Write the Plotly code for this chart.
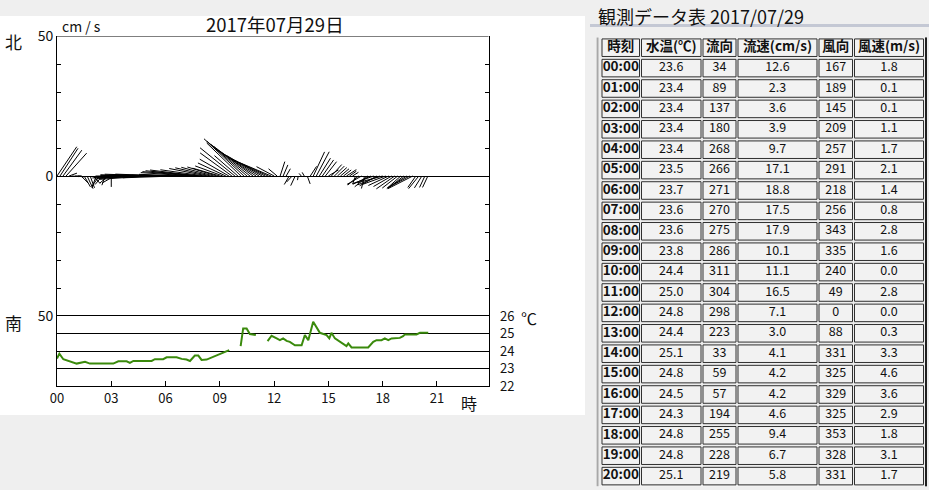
import numpy as np
import plotly.graph_objects as go

# ---- observation table (hourly) ----
times = ['00:00', '01:00', '02:00', '03:00', '04:00', '05:00', '06:00', '07:00', '08:00', '09:00', '10:00',
         '11:00', '12:00', '13:00', '14:00', '15:00', '16:00', '17:00', '18:00', '19:00', '20:00']
water_temp = [23.6, 23.4, 23.4, 23.4, 23.4, 23.5, 23.7, 23.6, 23.6, 23.8, 24.4,
              25.0, 24.8, 24.4, 25.1, 24.8, 24.5, 24.3, 24.8, 24.8, 25.1]
flow_dir = [34, 89, 137, 180, 268, 266, 271, 270, 275, 286, 311,
            304, 298, 223, 33, 59, 57, 194, 255, 228, 219]
flow_speed = [12.6, 2.3, 3.6, 3.9, 9.7, 17.1, 18.8, 17.5, 17.9, 10.1, 11.1,
              16.5, 7.1, 3.0, 4.1, 4.2, 4.2, 4.6, 9.4, 6.7, 5.8]
wind_dir = [167, 189, 145, 209, 257, 291, 218, 256, 343, 335, 240,
            49, 0, 88, 331, 325, 329, 325, 353, 328, 331]
wind_speed = [1.8, 0.1, 0.1, 1.1, 1.7, 2.1, 1.4, 0.8, 2.8, 1.6, 0.0,
              2.8, 0.0, 0.3, 3.3, 4.6, 3.6, 2.9, 1.8, 3.1, 1.7]
headers = ['時刻', '水温(℃)', '流向', '流速(cm/s)', '風向', '風速(m/s)']

# ---- 10-minute current sticks ----
stick_dir = [
    34, 33, 36, 42, 70, 95,
    89, 100, 135, 150, 155, 160,
    137, 200, 215, 220, 200, 230,
    180, 240, 262, 266, 268, 270,
    268, 270, 272, 271, 268, 267,
    266, 268, 270, 272, 271, 270,
    271, 272, 270, 268, 270, 271,
    270, 272, 274, 275, 276, 277,
    275, 278, 281, 283, 285, 287,
    286, 290, 295, 300, 306, 309,
    311, 314, 313, 311, 309, 307,
    304, 302, 300, 297, 295, 293,
    298, 310, 18, 23, 30, 210,
    223, 205, 190, 320, 330, 160,
    33, 25, 28, 32, 35, 38,
    59, 42, 45, 48, 50, 52,
    57, 55, 58, 200, 230, 240,
    194, 230, 245, 250, 240, 248,
    255, 250, 245, 240, 235, 232,
    228, 232, 238, 242, 243, 215,
    219, 212, 205, 205,
]
stick_speed = [
    12.6, 11.8, 11.4, 11.0, 3.0, 2.5,
    2.3, 2.0, 3.5, 4.5, 5.0, 4.5,
    3.6, 4.5, 4.5, 4.0, 3.5, 4.0,
    3.9, 5.0, 8.0, 10.0, 10.5, 11.0,
    9.7, 11.5, 12.5, 13.5, 14.5, 15.5,
    17.1, 17.5, 18.0, 18.5, 18.0, 18.5,
    18.8, 19.0, 18.0, 18.5, 18.0, 17.5,
    17.5, 17.0, 17.5, 18.0, 18.0, 17.5,
    17.9, 16.0, 14.0, 13.0, 12.0, 11.0,
    10.1, 10.5, 11.0, 12.0, 14.0, 16.0,
    11.1, 17.0, 19.5, 19.0, 18.0, 17.5,
    16.5, 15.5, 14.5, 13.5, 13.0, 12.5,
    7.1, 4.0, 5.4, 4.3, 3.0, 3.5,
    3.0, 3.8, 1.5, 1.2, 1.5, 3.0,
    4.1, 9.5, 9.8, 7.5, 7.0, 6.5,
    4.2, 5.5, 5.0, 4.5, 4.0, 3.5,
    4.2, 3.0, 2.5, 3.0, 5.0, 6.0,
    4.6, 6.0, 7.0, 8.0, 7.0, 8.5,
    9.4, 9.0, 8.0, 7.5, 8.0, 7.0,
    6.7, 7.0, 8.0, 9.0, 10.0, 5.0,
    5.8, 5.0, 4.5, 4.5,
]
stick_time = np.arange(len(stick_dir)) / 6.0

# ---- water temperature trace (None = gap) ----
temp_hour = [0.0, 0.13, 0.35, 1.09, 1.55, 1.82, 3.11, 3.39, 3.85, 4.03, 4.22, 5.23, 5.41, 5.87, 6.06,
             6.61, 6.89, 7.16, 7.35, 7.62, 7.81, 7.99, 8.27, 8.64, 9.01, 9.19, 9.52, None,
             10.15, 10.29, 10.48, 10.66, 10.99, None,
             11.64, 11.86, 12.14, 12.32, 12.5, 12.69, 12.87, 13.15, 13.52, 13.7, 13.89, 14.16,
             14.53, 14.9, 15.05, 15.17, 15.36, 15.64, 15.82, 16.0, 16.1, 16.28, 17.2, 17.48,
             17.66, 17.94, 18.12, 18.31, 18.49, 18.77, 18.95, 19.13, 19.23, 19.87, 20.06, 20.52]
temp_value = [23.57, 23.85, 23.53, 23.28, 23.38, 23.28, 23.28, 23.41, 23.41, 23.32, 23.43, 23.43, 23.53,
              23.53, 23.64, 23.64, 23.55, 23.51, 23.43, 23.74, 23.74, 23.49, 23.51, 23.66, 23.8, 23.89,
              24.05, None,
              24.28, 25.29, 25.29, 24.97, 24.91, None,
              24.56, 24.87, 24.72, 24.62, 24.72, 24.58, 24.52, 24.33, 24.33, 24.91, 24.62, 25.67,
              25.04, 24.91, 24.72, 25.04, 24.72, 24.52, 24.43, 24.28, 24.43, 24.2, 24.2, 24.52,
              24.62, 24.62, 24.72, 24.62, 24.72, 24.75, 24.75, 24.85, 24.95, 24.95, 25.04, 25.04]

W, H = 929, 490
FONT = 'Noto Sans CJK JP'
BG = '#efefef'


def px(x):
    return x / W


def py(y):
    return 1 - y / H


X_RANGE = [0, 23.85]
K = (2.8 / 18.08)  # stick length: cm/s -> hours so both axes share one scale

sx, sy = [], []
for t, d, s in zip(stick_time, stick_dir, stick_speed):
    r = np.radians(d)
    sx += [t, t + s * np.sin(r) * K, None]
    sy += [0, s * np.cos(r), None]

fig = go.Figure()

fig.add_trace(go.Scatter(x=sx, y=sy, mode='lines', line=dict(color='black', width=1),
                         xaxis='x', yaxis='y', hoverinfo='skip'))
fig.add_trace(go.Scatter(x=temp_hour, y=temp_value, mode='lines', connectgaps=False,
                         line=dict(color='#3a8a0c', width=2), xaxis='x', yaxis='y2'))

# ---- table ----
col_edges = [601, 640.5, 702, 737, 818, 853.5, 924.5]
cell_shapes = []
n_rows = len(times) + 1
for r in range(n_rows):
    for c in range(len(headers)):
        cell_shapes.append(dict(type='rect', xref='x3', yref='y3',
                                x0=col_edges[c] + 1, x1=col_edges[c + 1] - 1, y0=r + 0.07, y1=r + 0.93,
                                line=dict(color='#303030', width=1), fillcolor='#f2f2f2', layer='below'))

columns = [times, [f'{v:.1f}' for v in water_temp], [str(v) for v in flow_dir],
           [f'{v:.1f}' for v in flow_speed], [str(v) for v in wind_dir], [f'{v:.1f}' for v in wind_speed]]
for c, col in enumerate(columns):
    cx = (col_edges[c] + col_edges[c + 1]) / 2
    fig.add_trace(go.Scatter(x=[cx] * len(col), y=[r + 1.5 for r in range(len(col))],
                             text=[f'<b>{v}</b>' for v in col] if c == 0 else col,
                             mode='text', textposition='middle center',
                             textfont=dict(family=FONT, size=13.5 if c == 0 else 12.5, color='#111'),
                             xaxis='x3', yaxis='y3', hoverinfo='skip'))
fig.add_trace(go.Scatter(x=[(col_edges[c] + col_edges[c + 1]) / 2 for c in range(len(headers))],
                         y=[0.5] * len(headers), text=[f'<b>{h}</b>' for h in headers],
                         mode='text', textposition='middle center',
                         textfont=dict(family=FONT, size=13.5, color='#111'),
                         xaxis='x3', yaxis='y3', hoverinfo='skip'))

# background panels and frames
shapes = [
    dict(type='rect', xref='paper', yref='paper', x0=0, x1=px(585), y0=py(415), y1=py(16),
         fillcolor='white', line=dict(width=0), layer='below'),
    dict(type='line', xref='paper', yref='paper', x0=px(590), x1=1, y0=py(25.5), y1=py(25.5),
         line=dict(color='#c4c8d4', width=3)),
    dict(type='rect', xref='x3', yref='y3', x0=597.5, x1=926, y0=-0.2, y1=22.1,
         line=dict(color='#a8a8a8', width=2), fillcolor='#ececec', layer='below'),
    dict(type='line', xref='x3', yref='y3', x0=926, x1=926, y0=-0.2, y1=22.1,
         line=dict(color='#202020', width=2)),
    dict(type='line', xref='x3', yref='y3', x0=597.5, x1=926, y0=22.1, y1=22.1,
         line=dict(color='#202020', width=2)),
] + cell_shapes + [
    dict(type='line', xref='x domain', yref='y', x0=0, x1=1, y0=50, y1=50, line=dict(color='black', width=1)),
]

annotations = [
    dict(text='2017年07月29日', x=px(275), y=py(24), font=dict(size=18.5)),
    dict(text='cm / s', x=px(81), y=py(26), font=dict(size=14)),
    dict(text='北', x=px(13), y=py(41), font=dict(size=17)),
    dict(text='南', x=px(13), y=py(322), font=dict(size=17)),
    dict(text='℃', x=px(529), y=py(318), font=dict(size=16)),
    dict(text='時', x=px(469), y=py(403), font=dict(size=16)),
    dict(text='観測データ表 2017/07/29', x=px(596), y=py(15.5), xanchor='left', font=dict(size=18)),
]
for a in annotations:
    a.update(xref='paper', yref='paper', showarrow=False, yanchor='middle')
    a.setdefault('xanchor', 'center')
    a['font'].update(family=FONT, color='#111')

fig.update_layout(
    width=W, height=H,
    margin=dict(l=0, r=0, t=0, b=0, pad=0, autoexpand=False),
    paper_bgcolor=BG,
    plot_bgcolor='white',
    showlegend=False,
    font=dict(family=FONT, size=13, color='#111'),
    shapes=shapes,
    annotations=annotations,
    xaxis=dict(domain=[px(57), px(488.5)], range=X_RANGE, anchor='y2', automargin=False,
               tickvals=[0, 3, 6, 9, 12, 15, 18, 21],
               ticktext=['00', '03', '06', '09', '12', '15', '18', '21'],
               ticks='inside', ticklen=5, tickcolor='black', showgrid=False, zeroline=False,
               showline=True, mirror=True, linecolor='black', tickfont=dict(size=13)),
    yaxis=dict(domain=[py(316), py(36)], range=[-50, 50], anchor='x', automargin=False,
               tickvals=list(range(-50, 51, 10)),
               ticktext=['50', '', '', '', '', '0', '', '', '', '', '50'],
               ticks='inside', ticklen=4, tickcolor='black', showline=True, linecolor='black',
               mirror='ticks', showgrid=False, zeroline=True, zerolinecolor='black', zerolinewidth=1,
               tickfont=dict(size=14)),
    yaxis2=dict(domain=[py(386), py(316)], range=[22, 26], anchor='x', side='right', automargin=False,
                tickvals=[22, 23, 24, 25, 26], ticks='', showgrid=True, gridcolor='black',
                gridwidth=1, showline=True, linecolor='black', mirror=True, zeroline=False,
                ticklabelstandoff=8, tickfont=dict(size=13)),
    xaxis3=dict(domain=[px(596), px(927)], range=[596, 927], anchor='y3', visible=False, automargin=False),
    yaxis3=dict(domain=[py(486.3), py(37.5)], range=[22, 0], anchor='x3', visible=False, automargin=False),
)

# drop the page's default body margin so the figure sits at the window's corner
fig.write_html('out.html', config={'displayModeBar': False}, post_script=(
    "document.body.style.margin='0';document.body.style.overflow='hidden';"
    f"document.body.style.background='{BG}';"))
